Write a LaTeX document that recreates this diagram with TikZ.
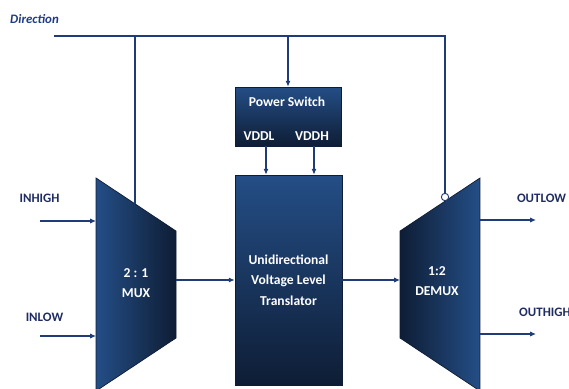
\documentclass[tikz,border=0pt]{standalone}
\usepackage{fontspec}
\setmainfont{Carlito}
\usetikzlibrary{arrows.meta,positioning}
\definecolor{wireblue}{HTML}{1F3C78}
\definecolor{blklight}{HTML}{244E86}
\definecolor{blkdark}{HTML}{0E1D35}
\definecolor{pinblue}{HTML}{1F2C62}
\definecolor{dirblue}{HTML}{1F3A88}
\begin{document}
\begin{tikzpicture}[x=0.03cm,y=-0.03cm,
  wire/.style={draw=wireblue,line width=1.1pt},
  sig/.style={wire,-{Latex[length=5pt,width=4.5pt]}},
  blk/.style={draw=blkdark,line width=0.6pt,top color=blklight,bottom color=blkdark,inner sep=0pt},
  blktext/.style={text=white,align=center,inner sep=0pt,font=\fontsize{11.6}{17.5}\selectfont\bfseries},
  pin/.style={text=pinblue,inner sep=0pt,font=\fontsize{11}{12}\selectfont\bfseries}]
\useasboundingbox (0,0) rectangle (569,388);
\clip (0,0) rectangle (569,388);

% blocks
\node[blk,minimum width=3.18cm,minimum height=1.77cm] (psw) at (288,116.5) {};
\node[blk,blktext,minimum width=3.21cm,minimum height=6.3cm] (lvt) at (288.5,280)
  {Unidirectional\\Voltage Level\\Translator};
\node[blktext] (pswt) at (287,102) {Power Switch};
\node[blktext] (vddl) at (259,136) {VDDL};
\node[blktext] (vddh) at (312,136) {VDDH};

% mux and demux bodies
\path[draw=blkdark,line width=0.6pt,left color=blklight,right color=blkdark]
  (96,178) coordinate (mux nw) -- (176,231) coordinate (mux ne)
  -- (176,338) coordinate (mux se) -- (96,391) coordinate (mux sw) -- cycle;
\path[draw=blkdark,line width=0.6pt,left color=blkdark,right color=blklight]
  (400,231) coordinate (dmx nw) -- (480,178) coordinate (dmx ne)
  -- (480,391) coordinate (dmx se) -- (400,338) coordinate (dmx sw) -- cycle;
\node[blktext] (mux) at (136,283) {2 : 1\\MUX};
\node[blktext] (dmx) at (437,281) {1:2\\DEMUX};

% direction bus
\node[text=dirblue,inner sep=0pt,anchor=west,font=\fontsize{11}{12}\selectfont\bfseries\itshape]
  (dir) at (10,19) {Direction};
\node[circle,draw=wireblue,fill=white,line width=0.8pt,minimum size=0.22cm,inner sep=0pt]
  (inv) at (445,197) {};
\coordinate (dirL) at (54,36);
\coordinate (msel) at (135,204);
\draw[wire] (dirL) -- (dirL -| inv) -- (inv.north);
\draw[wire] (dirL -| msel) -- (msel);
\draw[sig] (dirL -| psw) -- (psw.north);

% supplies
\draw[sig] ([xshift=-0.66cm]psw.south) -- ([xshift=-0.675cm]lvt.north);
\draw[sig] ([xshift=0.78cm]psw.south) -- ([xshift=0.765cm]lvt.north);

% inputs and outputs
\node[pin] (inhigh) at (39.5,198) {INHIGH};
\node[pin] (inlow) at (44.5,317) {INLOW};
\node[pin] (outlow) at (541.5,198) {OUTLOW};
\node[pin,anchor=west] (outhigh) at (519,312) {OUTHIGH};
\coordinate (inH) at (40,221);
\coordinate (inL) at (40,336);
\coordinate (outL) at (536,220);
\coordinate (outH) at (536,334);
\draw[sig] (inH) -- (inH -| mux nw);
\draw[sig] (inL) -- (inL -| mux nw);
\draw[sig] (mux ne |- lvt.west) -- (lvt.west);
\draw[sig] (lvt.east) -- (lvt.east -| dmx nw);
\draw[sig] (outL -| dmx ne) -- (outL);
\draw[sig] (outH -| dmx ne) -- (outH);
\end{tikzpicture}
\end{document}
